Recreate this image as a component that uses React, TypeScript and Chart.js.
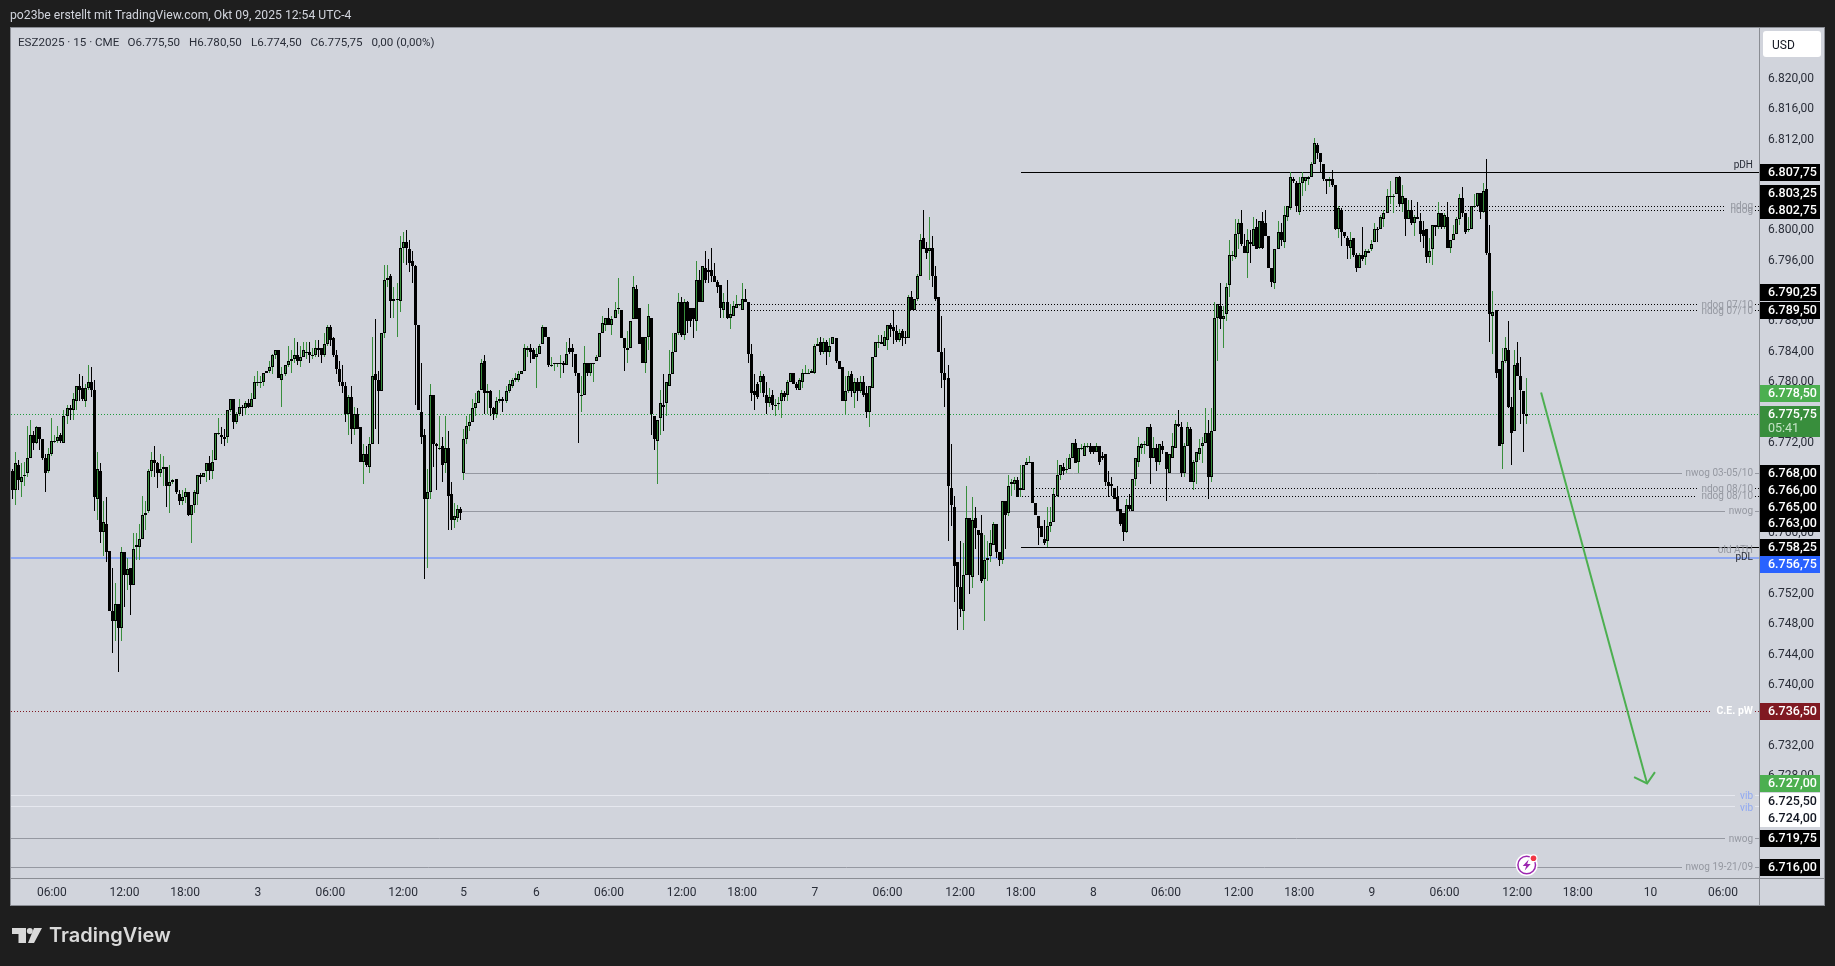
import React, { useEffect, useRef } from "react";
import { Chart, registerables } from "chart.js";

Chart.register(...registerables);

// [open, high, low, close] per 15 minute bar
const sessionOct2 = [
[6768.25,6768.5,6764.5,6765.75],[6765.75,6770.75,6763.75,6769.25],[6769,6769.75,6765.75,6767],[6766.75,6769.25,6764.75,6767.5],[6767.75,6769.5,6766.25,6767.75],
[6768,6774.25,6767.5,6770],[6770,6775,6770,6773],[6773,6773.5,6771,6772],[6772,6774.25,6771.75,6774],[6774,6774,6771,6772.5],
[6772.5,6772.5,6769.75,6770],[6770,6770.5,6765.5,6768],[6768.25,6771.25,6768,6770.5],[6770.5,6775.25,6770.25,6772.25],[6772.25,6773,6772,6772.25],
[6772.25,6774.25,6772,6772.75],[6773,6773.25,6772,6772.25],[6772,6776.25,6772,6775.5],[6775.5,6777,6774.5,6776.5],[6776.5,6777,6775,6776.25],
[6776.25,6778.5,6775,6777.75],[6777.5,6779.5,6776.25,6779.5],[6779.5,6781,6777.5,6779],[6779.25,6780.75,6777.5,6777.75],[6777.5,6779.75,6776.75,6779.25],
[6779.25,6782.25,6779,6780],[6780,6782,6778,6779],[6779,6780.25,6763,6764.75],[6764.5,6770.75,6761.75,6768.5],[6768.25,6769.25,6758.75,6760.25],
[6760.25,6764.25,6757,6761.5],[6761.25,6764.75,6756.25,6757.5],[6757.75,6757.75,6749.75,6749.75],[6749.75,6755.5,6744.25,6748.5],[6748.5,6753.5,6745.75,6750.75],
[6750.75,6750.75,6741.75,6747.5],[6747.5,6758.25,6745.75,6757.5],[6757.5,6757.5,6750.25,6754.5],[6754.5,6756.75,6752.5,6755.25],[6755.5,6755.5,6749.25,6753.25],
[6753.25,6760,6753.25,6758],[6758.25,6760,6756.5,6758.5],[6758.25,6761.25,6756.5,6759.25],[6759.25,6765,6759.25,6762.5],[6762.5,6764.25,6760.5,6762.75],
[6763,6768.5,6762.75,6768.25],[6768.25,6770.75,6767.5,6769.75],[6769.75,6771.5,6767.5,6769.25],[6769.25,6769.5,6766,6768],[6768,6770.5,6767.5,6768.5],
[6768.5,6770.25,6766.25,6768.75],[6768.75,6768.75,6763.5,6766.25],[6766.25,6769,6762.75,6766.75],[6766.75,6767.25,6766.5,6767],[6767.25,6767.25,6765.25,6765.5],
[6765.25,6765.75,6763.75,6764.25],[6764.25,6765.75,6763.75,6764.75],
];

const sessionOct3 = [
[6764.75,6766,6764,6765.5],[6765.5,6765.5,6762.25,6762.5],[6762.5,6763.75,6758.75,6763.75],[6763.75,6765.75,6762.75,6765.5],[6765.25,6767.75,6763.75,6767.75],
[6767.75,6768,6766.5,6767.5],[6767.5,6768,6767.5,6768],[6768.25,6769.25,6766.75,6769.25],[6769.25,6770.25,6767,6768.25],[6768.25,6771,6767.25,6769.5],
[6769.75,6773.25,6769.75,6773.25],[6773.25,6775.25,6773,6773.25],[6773,6774,6771.75,6772.75],[6772.75,6773.75,6771.5,6772.5],[6772.75,6776.25,6772,6776.25],
[6776.25,6777.75,6776,6777.75],[6777.75,6777.75,6773.75,6774.75],[6774.75,6776,6774.5,6775.75],[6775.75,6777.75,6775.5,6776.75],[6776.75,6777,6775.5,6776.5],
[6776.5,6777.5,6775.75,6777.25],[6777.25,6777.75,6776.5,6776.75],[6776.75,6778.5,6776.75,6777.75],[6777.75,6780.75,6777.75,6780],[6780,6781.5,6779.5,6780],
[6780,6780.75,6779.25,6780],[6780,6781.25,6779.5,6781.25],[6781.25,6781.5,6781.25,6781.5],[6781.5,6782.75,6781.25,6782],[6782,6783.75,6781,6783.5],
[6783.5,6784.25,6783,6784.25],[6784.25,6784.25,6780.5,6780.5],[6780.25,6782,6776.75,6781],[6781,6782.25,6780.75,6782.25],[6782.25,6784.75,6782,6782.75],
[6782.75,6784.25,6781.25,6783],[6783,6785.75,6782.5,6783.5],[6783.5,6785.25,6782.25,6782.75],[6782.75,6784.75,6782,6783.25],[6783.25,6785.25,6783.25,6784.25],
[6784,6785.25,6783,6784],[6784,6785.25,6782.5,6783.5],[6783.5,6784.5,6783,6783.5],[6783.5,6785.5,6783.25,6784.5],[6784.5,6785.5,6783.25,6784.25],
[6784.5,6784.5,6782.5,6783.5],[6783.5,6786.5,6783.25,6785],[6785,6787.5,6784.75,6787.25],[6787.25,6787.5,6784.75,6785.5],[6785.75,6786,6783.25,6783.5],
[6783.5,6784.25,6781,6781.75],[6781.75,6782.75,6779.5,6780],[6780,6782.25,6778.5,6779.5],[6779.5,6780,6774.75,6775.75],[6775.75,6778.25,6773,6778],
[6778,6779.5,6771.75,6773.75],[6773.75,6776.75,6773,6775.75],[6775.75,6776.5,6773.75,6773.75],[6774,6774,6769.5,6769.5],[6769.5,6771.75,6766.5,6770.5],
[6770.5,6771.5,6768.75,6769],[6768.75,6772.75,6768,6771.75],[6771.75,6786,6771.75,6780.75],[6781,6788.25,6773.75,6780.25],[6780.25,6781.5,6771.75,6778.75],
[6778.75,6786.5,6778.75,6786.5],[6786.5,6795.5,6785.75,6793.5],[6793.5,6795.5,6792.5,6793.75],[6794,6794.25,6788.5,6790.75],[6790.75,6792.5,6788.5,6791],
[6791,6793,6786,6791],[6790.75,6799.25,6789.25,6797.75],[6797.75,6799.75,6795.75,6798.5],[6798.5,6800,6795.5,6797.75],[6797.5,6798.75,6794.5,6795.75],
[6796,6797.25,6793,6795.25],[6795.25,6795.5,6777,6787.5],[6787.5,6787.5,6776.25,6776.25],[6776,6782.5,6771.75,6772.75],[6773,6773.75,6754,6764.5],
[6764.5,6768.5,6755.5,6765.5],[6765.5,6779.75,6764.5,6778.25],[6778.25,6778.25,6768.75,6771.75],[6771.75,6772,6765.75,6771.5],[6771.25,6775.5,6771,6771.25],
[6771.5,6772.75,6766.75,6769],[6769.25,6775.5,6768,6771.25],[6771.25,6773.5,6760.5,6765],[6765.25,6766.75,6760.5,6761.75],[6761.75,6764,6760.75,6762.25],
[6762,6763.75,6761.5,6763.25],[6763.25,6763.5,6761.75,6762.75],
];

const sessionOct6 = [
[6768,6773.75,6767,6772.5],[6772.5,6775.5,6771.75,6774.25],[6774.25,6775.75,6773.5,6774.75],[6774.75,6777.75,6774.75,6776.5],[6776.5,6778.5,6775.5,6777.25],
[6777.25,6779,6777.25,6778.75],[6779,6783,6779,6782.5],[6782.75,6783.5,6775.75,6778.5],[6778.5,6779.75,6775.75,6778.75],[6778.75,6779,6775.5,6776.5],
[6776.5,6776.75,6775,6775.75],[6775.75,6778,6775.25,6777.5],[6777.5,6779,6777.25,6777.75],[6777.75,6778,6776,6777.5],[6777.5,6779.5,6777.25,6778.75],
[6778.75,6780.25,6778.5,6779.75],[6779.5,6780.5,6779.25,6780.25],[6780.25,6781.25,6780,6780.5],[6780.25,6781.5,6780,6781],[6781,6781.5,6781,6781.5],
[6781.5,6785,6781.5,6784.5],[6784.25,6784.75,6783.25,6784.5],[6784.5,6785,6782.5,6784],[6784.25,6784.5,6783,6783],[6783.25,6784.5,6779.25,6783.75],
[6783.75,6785,6783.75,6784.75],[6785,6787.5,6785,6787.25],[6787.25,6787.25,6786,6786],[6786,6786,6782,6782.25],[6782.25,6783.25,6782,6782.25],
[6782.5,6782.5,6781.5,6782.5],[6782.5,6782.5,6782,6782.5],[6782.5,6783.5,6780.5,6782.5],[6782.5,6782.75,6781.25,6782.25],[6782.25,6785.25,6782.25,6783.75],
[6784.5,6785.75,6783.75,6784],[6784.5,6785,6782,6784],[6783.75,6783.75,6780.75,6781.25],[6781.25,6781.25,6772,6778.5],[6778.25,6780.75,6776,6778.25],
[6778.25,6784.75,6778.25,6782.5],[6782.5,6782.5,6780.75,6781.25],[6781.25,6782.5,6780.75,6782.5],[6782.5,6782.5,6780,6782.5],[6782.75,6783.5,6782.75,6783.25],
[6783.25,6786.5,6783.25,6786.5],[6786.5,6788.75,6786.5,6787.75],[6787.5,6788.5,6786.75,6788.5],[6788.5,6789.75,6787.5,6787.5],[6787.5,6788.75,6786.25,6788.25],
[6788.5,6790.5,6788.5,6789.5],[6789.75,6793.75,6789,6789.75],[6789.5,6789.5,6785.75,6785.75],[6785.75,6785.75,6781.5,6784.5],[6784.25,6786.75,6782.5,6784.5],
[6784.5,6788,6784.5,6788],[6788.25,6794,6788.25,6792.5],[6792.25,6792.75,6788.25,6788.25],[6789.75,6789.75,6785,6785],[6786,6786,6782.5,6782.5],
[6782.5,6786,6781.25,6786],[6786,6790.25,6784.25,6788.75],[6788.5,6788.5,6773,6775.75],[6775.5,6775.5,6771,6772.5],[6772.25,6775,6766.5,6775],
[6775.25,6779,6773,6777.25],[6777,6781,6773.5,6776.75],[6777.25,6780,6775.5,6780],[6779.5,6784.25,6779.5,6781],[6781,6786.5,6781,6784],
[6784,6786.5,6784,6786.5],[6786.5,6791.75,6786.25,6790.5],[6790.5,6791.25,6786,6786.25],[6786.25,6791,6785.5,6790.5],[6790.5,6790.75,6786.5,6788],
[6789.75,6789.75,6787.25,6788],[6789.75,6789.75,6785.75,6788.25],[6788,6796,6786.75,6793.5],[6793.5,6794.75,6790.5,6790.5],[6790.5,6795.25,6790.5,6795.25],
[6795,6797.25,6793,6793.5],[6794.75,6796.25,6793,6794.5],[6794.75,6797.75,6793.25,6794],[6794,6795.75,6793.25,6793.25],[6793.25,6793.5,6791.75,6792.5],
[6792.75,6792.75,6788.5,6789.75],[6789.5,6791.75,6788.5,6790.5],[6790.5,6793.5,6788.25,6788.5],[6788.5,6790.25,6787,6789],[6788.75,6790.75,6788.75,6790],
[6789.75,6791.5,6789.75,6790.25],[6790.25,6790.25,6790,6790.25],
];

const sessionOct7 = [
[6789.5,6793,6789.5,6791],[6791,6792.25,6790.5,6790.5],[6790.5,6790.5,6782.5,6783.75],[6783.75,6785,6777.5,6778.5],[6778.75,6781,6776.25,6778.25],
[6779.75,6780,6777.75,6778],[6780,6781.5,6778.5,6780.75],[6780.75,6781,6778,6778.5],[6778.25,6780,6775.75,6777.25],[6777.25,6779.25,6776.75,6778],
[6778.25,6779,6776.25,6777],[6777,6777.75,6775.5,6777],[6777.25,6778,6776.25,6777.25],[6777.5,6779,6775.25,6778.5],[6778.5,6778.75,6777.5,6778],
[6778.25,6780.25,6777.5,6780],[6780,6781.25,6780,6781.25],[6781.25,6781.25,6779.75,6779.75],[6779.75,6780,6779,6779.25],[6779,6780.5,6779,6780.25],
[6780,6781.75,6779.25,6781.25],[6781,6782.25,6781,6781.25],[6781.25,6781.75,6781.25,6781.25],[6781.25,6781.75,6781.25,6781.5],[6781.25,6785,6781,6784.75],
[6784.75,6785.75,6784.75,6785],[6785.25,6786,6783.5,6784],[6784,6785.75,6783.75,6785.25],[6785.25,6785.5,6782.25,6784],[6784,6785.75,6783.25,6784.75],
[6785,6786,6785,6786],[6785.75,6785.75,6782.5,6782.75],[6782.75,6782.75,6781.75,6781.75],[6782,6782,6777.5,6777.5],[6777.5,6780.75,6775.75,6778.75],
[6778.75,6781.5,6778.5,6780.75],[6781,6781.5,6778,6778.75],[6778.5,6780.5,6776.5,6780],[6780,6780.5,6777.5,6778.75],[6778.75,6780.75,6778.5,6780],
[6780,6780.75,6778,6778.25],[6778.5,6779.5,6775.25,6776],[6776,6779.5,6774,6779.5],[6779.25,6783.25,6779.25,6783.25],[6783.25,6785.25,6783.25,6785.25],
[6785.25,6786.25,6784.5,6785.25],[6785.25,6786.25,6785,6785],[6784.75,6786.75,6784.75,6786],[6785.5,6787.5,6784.25,6787.5],[6787.5,6787.75,6786,6787],
[6787.25,6789.5,6785,6786.75],[6786.75,6787.5,6785.25,6785.5],[6785.5,6787,6785.25,6786.5],[6786.75,6787,6784.75,6785.75],[6786,6786.75,6785,6785.75],
[6785.75,6791.5,6785.75,6791.25],[6791.25,6792,6789.5,6789.5],[6789.5,6791,6789.5,6791],[6791,6794.25,6790.75,6794],[6794,6799.5,6794,6798.75],
[6799,6802.75,6797.5,6797.5],[6797.75,6798.5,6796.25,6797],[6797.25,6801.75,6793.5,6797.75],[6797.75,6799.25,6792.5,6794],[6794,6795.25,6790.75,6791],
[6791.25,6791.25,6784,6784],[6784,6788.75,6779.25,6781.25],[6781.25,6784.5,6776.75,6780.25],[6780.5,6782.25,6759,6766.25],[6766,6771.75,6761,6763.75],
[6763.5,6765,6751,6755.75],[6756.25,6756.25,6747.25,6753],[6753,6759,6749,6750],[6749.75,6758.75,6747.25,6754.5],[6754.5,6766.25,6754.5,6762],
[6762,6762,6752,6754.5],[6754.25,6764.75,6752.75,6761.75],[6762,6763.5,6758,6760.75],[6760.5,6760.5,6754.5,6759.75],[6760,6762.5,6753.5,6753.75],
[6754,6759.75,6748.5,6756.5],[6756.5,6759,6753.75,6756.75],[6757,6760.5,6756.25,6758.75],[6758.5,6761.5,6758.5,6761.25],[6761.25,6761.25,6756.75,6757.5],
[6757.5,6757.5,6755.75,6756.5],[6756.5,6764.25,6756,6764.25],[6764.25,6764.25,6758,6762.5],[6762.75,6767.75,6762.25,6766.25],[6766.5,6767.25,6765,6766.75],
[6766.5,6767.5,6765.75,6767],[6767,6767.5,6764.75,6764.75],
];

const sessionOct8 = [
[6765.75,6769,6764.75,6766],[6765.75,6769,6765.75,6769],[6769,6770,6769,6769.5],[6769.5,6770.25,6769.25,6769.5],[6769.5,6769.5,6764,6764],
[6764,6764,6762.5,6762.5],[6762.25,6762.25,6758.5,6760.75],[6761,6761,6759.5,6759.5],[6759.25,6761.75,6758.5,6758.75],[6759,6763.5,6758.25,6761],
[6761,6763.5,6760.25,6761.5],[6761.5,6766,6761.5,6765.25],[6765,6769.75,6764.75,6767.75],[6767.75,6769,6767,6769],[6768.75,6769.25,6767.75,6768.25],
[6768.5,6770,6768,6768.5],[6768.5,6770.5,6768.5,6770],[6770,6772,6770,6772],[6772,6772.5,6769.25,6769.25],[6769.5,6771.25,6768,6771.25],
[6771.25,6771.75,6771,6771.25],[6770.25,6772,6770.25,6771.5],[6771.5,6772,6771.25,6771.5],[6771.5,6772,6770.5,6770.75],[6771.5,6771.5,6770.5,6770.75],
[6770.75,6772,6770.75,6771.5],[6771.5,6771.5,6769,6769.5],[6770.25,6770.75,6769.75,6770],[6770.5,6770.5,6766.25,6766.75],[6766.75,6768.25,6764.75,6766.25],
[6766.5,6767.5,6765,6766.25],[6766,6766,6764.5,6764.5],[6764.75,6766.25,6763,6763],[6763.25,6763.25,6761,6761.25],[6762.75,6762.75,6759,6760.25],
[6760.25,6764.5,6760,6763.75],[6763.75,6765.25,6763,6763.25],[6763,6767.25,6763,6767.25],[6767.25,6770,6766.25,6770],[6769.5,6772.75,6768.75,6771.5],
[6771.25,6772,6770.5,6771.75],[6771.75,6772.25,6770.5,6771.75],[6771.5,6774,6771.5,6774],[6774,6774.5,6766.5,6770],[6770,6772.75,6770,6771.25],
[6771.25,6771.75,6768.25,6769.5],[6769.5,6771.75,6769,6771.75],[6771.5,6772.25,6770.5,6771],[6770.75,6770.75,6764.25,6768.5],[6768,6770.5,6768,6770.5],
[6770,6773.25,6770,6771.5],[6771.25,6775,6771.25,6774.5],[6774.5,6776.25,6774,6774.25],[6774,6774.75,6767.5,6768],[6768,6772,6767.5,6771.5],
[6771.5,6774.75,6771.5,6774],[6773.75,6774,6766.75,6766.75],[6766.75,6769.75,6765.75,6769.5],[6769.5,6770.75,6766.5,6770.75],[6770.5,6772.5,6769.75,6771.25],
[6771.5,6772.75,6769.25,6772],[6772,6776.5,6772,6773.25],[6773.25,6775,6764.5,6767.5],[6767.5,6776.5,6766.75,6773.5],[6773.5,6790.5,6773.5,6788.5],
[6788.5,6790.25,6782.75,6790.25],[6790,6793,6787,6788.25],[6788.25,6790,6784.5,6788.75],[6789,6793,6788,6792.5],[6792.75,6798.75,6791.25,6796.75],
[6796.75,6797.25,6796,6796.75],[6796.5,6801.5,6796.25,6799.5],[6799.5,6801.5,6797.5,6801],[6801,6802.75,6798,6798.25],[6798,6799.5,6797,6797],
[6797,6800.25,6793.75,6798.75],[6798.5,6800,6795.75,6798.25],[6798,6801.75,6798,6800.25],[6800.5,6801.5,6797.5,6797.5],[6797.75,6801.25,6797.5,6801.25],
[6801.25,6802.5,6797.5,6797.75],[6801,6802.75,6799.25,6799.25],[6799.25,6799.25,6795,6795],[6795,6795,6792.5,6793.25],[6793,6797.5,6792.25,6797.5],
[6797.5,6801.25,6797.5,6799.75],[6799.75,6801,6798,6798.75],[6798.5,6803.25,6797.75,6802],[6801.75,6803.25,6801.25,6803.25],[6803,6807.75,6802.75,6807],
[6806.75,6807,6806.25,6806.5],[6806.25,6806.5,6802.5,6803.25],
];

const sessionOct9 = [
[6802.5,6807,6802,6806.25],[6806.25,6807.75,6804.5,6807],[6806.5,6807,6805.25,6807],[6806.75,6807.25,6806,6807],[6807,6809,6807,6808.75],
[6808.75,6812.25,6808.75,6811.5],[6811.25,6811.5,6809.5,6810.25],[6810.25,6810.25,6807.75,6809],[6808.75,6808.75,6806.5,6806.75],[6806.75,6806.75,6804.75,6806.5],
[6806.5,6807,6805.75,6806.75],[6806.75,6808,6805.75,6806],[6806,6806,6800,6800.25],[6800.25,6803.25,6799,6803],[6802.75,6803,6798,6799.75],
[6799.75,6799.75,6799,6799.25],[6799,6799.25,6796.25,6798],[6797.75,6799.75,6796.25,6798.75],[6799,6799,6796.5,6796.75],[6796.75,6797,6794.5,6795],
[6795,6797,6795,6796.75],[6796.75,6800.5,6796,6796.25],[6796.5,6797.5,6795.5,6797.25],[6797,6797.5,6797,6797.25],[6797.5,6798.75,6797.25,6798.25],
[6798.5,6801,6798.5,6800.25],[6800.25,6800.5,6798.5,6800],[6800.25,6802,6800.25,6801.75],[6801.5,6802.75,6800.5,6802.25],[6802.25,6805.5,6802.25,6804.5],
[6804.5,6806.5,6803.5,6804.5],[6804.5,6804.75,6802.25,6804.5],[6804.75,6807,6804.75,6807],[6807,6807.25,6803.25,6803.5],[6803.5,6806,6802.5,6804.5],
[6804.25,6804.25,6799.25,6801.5],[6801.5,6804,6801.5,6802.75],[6802.75,6804,6800.75,6801],[6801,6802,6799.25,6801.75],[6801.75,6803.75,6801.5,6801.5],
[6801.25,6802.25,6798.5,6799.5],[6800,6801.25,6797.75,6799.25],[6800.25,6800.25,6795.75,6796.5],[6796.5,6799,6795.75,6797.25],[6797.5,6800.75,6795.5,6800.75],
[6800.75,6800.75,6799.25,6800.5],[6800.5,6803.75,6800.25,6802.25],[6802.25,6802.25,6800.25,6800.5],[6800.5,6802.25,6800.25,6802],[6801.75,6803.75,6797.75,6797.75],
[6797.75,6798.75,6797,6798.75],[6798.75,6800.75,6798.75,6799.5],[6799.5,6801.75,6799.5,6801.5],[6801.5,6804.75,6800.75,6804.25],[6804.25,6805.75,6801.75,6802.25],
[6802.25,6802.25,6799.5,6799.75],[6800,6801.75,6799.75,6800.25],[6800.25,6803.25,6800.25,6803.25],[6803.25,6804.75,6803,6803.25],[6803.25,6804.75,6803.25,6805],
[6805,6805,6801.5,6802.5],[6802.5,6806.25,6802.25,6805.25],[6805.5,6809.5,6796.75,6797],[6797,6800.75,6785.25,6789],[6788.75,6792,6783.75,6789.25],
[6789.5,6789.5,6780.5,6781.25],[6781.75,6781.75,6771.5,6771.5],[6771.75,6784.5,6768.5,6782.75],[6782.75,6786,6782.5,6784.5],[6784.25,6788,6776.5,6776.75],
[6776.75,6778,6769,6773.25],[6773.5,6784.25,6773.5,6782.25],[6782.5,6785.25,6780.75,6780.75],[6780.75,6783.25,6774.5,6779],[6778.75,6778.75,6770.75,6775.75],
[6775.5,6780.5,6774.5,6775.75],
];

const allBars = [...sessionOct2, ...sessionOct3, ...sessionOct6, ...sessionOct7, ...sessionOct8, ...sessionOct9];

const timeTicks = [14, 38, 58, 82, 106, 130, 150, 174, 198, 222, 242, 266, 290, 314, 334, 358, 382, 406, 426, 450, 474, 498, 518, 542, 566];
const timeLabels = ["06:00", "12:00", "18:00", "3", "06:00", "12:00", "5", "6", "06:00", "12:00", "18:00", "7", "06:00", "12:00", "18:00", "8", "06:00", "12:00", "18:00", "9", "06:00", "12:00", "18:00", "10", "06:00"];
const priceTicks = [6716, 6720, 6724, 6728, 6732, 6736, 6740, 6744, 6748, 6752, 6756, 6760, 6764, 6768, 6772, 6776, 6780, 6784, 6788, 6792, 6796, 6800, 6804, 6808, 6812, 6816, 6820, 6824];

// horizontal levels: price, first bar, bar where the label gap starts, colour, dash, width
const levelPrices = [6807.75, 6803.25, 6802.75, 6790.25, 6789.5, 6775.75, 6768, 6766, 6765, 6763, 6758.25, 6756.75, 6736.5, 6725.5, 6724, 6719.75, 6716];
const levelFirstBars = [334, 426.3, 426.3, 244, 244, 0.5, 150.5, 338, 334.5, 149, 334, 0.5, 0.5, 0.5, 0.5, 0.5, 0.5];
const levelLastBars = [577.9, 567, 567, 557.4, 557.4, 577.5, 552.4, 557.4, 557.4, 566.6, 577.9, 577.9, 562, 570, 570, 566.6, 552.4];
const levelColors = ["#000000", "#000000", "#000000", "#000000", "#000000", "#1f9a3c", "#9598a1", "#000000", "#000000", "#9598a1", "#000000", "#8fa8f2", "#801922", "#e6e8ef", "#e6e8ef", "#9598a1", "#9598a1"];
const levelDotted = [false, true, true, true, true, true, false, true, true, false, false, false, true, false, false, false, false];
const levelWidths = [1, 1, 1, 1, 1, 1, 1, 1, 1, 1, 1, 2, 1, 1, 1, 1, 1];

const levelTexts = ["pDH", "ndog", "ndog", "ndog 07/10", "ndog 07/10", "nwog 03-05/10", "ndog 08/10", "ndog 08/10", "nwog", "old ATH", "pDL", "C.E. pW", "vib", "vib", "nwog", "nwog 19-21/09"];
const levelTextPrices = [6808.75, 6803.25, 6802.75, 6790.25, 6789.5, 6768, 6766, 6765, 6763, 6757.9, 6757, 6736.6, 6725.4, 6723.8, 6719.75, 6716];
const levelTextColors = ["#2a2e39", "#9598a1", "#9598a1", "#9598a1", "#9598a1", "#9598a1", "#9598a1", "#9598a1", "#9598a1", "#9598a1", "#2a2e39", "#ffffff", "#8fa8f2", "#8fa8f2", "#9598a1", "#9598a1"];

const tagPrices = [6807.75, 6803.25, 6802.75, 6790.25, 6789.5, 6778.5, 6768, 6766, 6765, 6763, 6758.25, 6756.75, 6736.5, 6727, 6725.5, 6724, 6719.75, 6716];
const tagNudges = [0, -13, 0, -12, 0, 0, 0, 2, 11, 12.5, 0, 6, 0, 0, 6, 11.5, 0, 0];
const tagColors = ["#000000", "#000000", "#000000", "#000000", "#000000", "#4caf50", "#000000", "#000000", "#000000", "#000000", "#000000", "#2962ff", "#801922", "#4caf50", "#ffffff", "#ffffff", "#000000", "#000000"];
const tagTextColors = ["#fff", "#fff", "#fff", "#fff", "#fff", "#fff", "#fff", "#fff", "#fff", "#fff", "#fff", "#fff", "#fff", "#fff", "#131722", "#131722", "#fff", "#fff"];

const lastPrice = 6775.75;
const countdown = "05:41";
const arrowShaft = [{ x: 505.9, y: 6778.6 }, { x: 540.9, y: 6727 }];
const arrowHead = [{ x: 536.6, y: 6727.85 }, { x: 540.9, y: 6727 }, { x: 543.5, y: 6728.5 }];

const headerText = "po23be erstellt mit TradingView.com, Okt 09, 2025 12:54 UTC-4";
const legendParts = ["ESZ2025 · 15 · CME", "O6.775,50", "H6.780,50", "L6.774,50", "C6.775,75", "0,00 (0,00%)"];
const legendOffsets = [18, 127.5, 189, 251, 310.5, 371.5];

const BAR_GREEN = "#388e3c";
const FONT = "Roboto, sans-serif";
const fmt = (p: number) =>
  p.toLocaleString("de-DE", { minimumFractionDigits: 2, maximumFractionDigits: 2 });

const frame = {
  id: "frame",
  beforeDraw(chart: any) {
    const { ctx, chartArea: a } = chart;
    ctx.save();
    ctx.fillStyle = "#1e1e1e";
    ctx.fillRect(0, 0, 1835, 966);
    ctx.fillStyle = "#8a8d94";
    ctx.fillRect(10, 27, 1815, 879);
    ctx.fillStyle = "#d1d4dc";
    ctx.fillRect(a.left, 28, 1824 - a.left, 905 - 28);
    ctx.fillStyle = "#8a8d94";
    ctx.fillRect(a.right, 28, 1, 905 - 28);
    ctx.fillRect(a.left, a.bottom, 1824 - a.left, 1);
    ctx.textBaseline = "middle";
    ctx.textAlign = "left";
    ctx.fillStyle = "#d1d4dc";
    ctx.font = `12.2px ${FONT}`;
    ctx.fillText(headerText, 10, 16);
    ctx.restore();
  },
  afterDatasetsUpdate(chart: any) {
    chart.data.datasets.forEach((ds: any, k: number) => {
      const meta = chart.getDatasetMeta(k);
      if (ds.type === "bar") {
        meta.data.forEach((el: any) => {
          el.x = Math.floor(el.x) + 0.5;
          let t = Math.round(Math.min(el.y, el.base));
          let b = Math.round(Math.max(el.y, el.base));
          if (b - t < 1) b = t + 1;
          el.y = t;
          el.base = b;
        });
      } else if (ds.crisp) {
        meta.data.forEach((el: any) => {
          el.x = Math.round(el.x);
          el.y = ds.borderWidth === 2 ? Math.round(el.y) : Math.round(el.y) + 0.5;
        });
      }
    });
  },
  afterDraw(chart: any) {
    const { ctx } = chart;
    const yS = chart.scales.y;
    ctx.save();
    ctx.textBaseline = "middle";

    // legend
    ctx.textAlign = "left";
    ctx.fillStyle = "#2a2e39";
    ctx.font = `11.6px ${FONT}`;
    legendParts.forEach((t, i) => ctx.fillText(t, legendOffsets[i], 43));

    // level labels
    ctx.textAlign = "right";
    levelTexts.forEach((t, i) => {
      ctx.fillStyle = levelTextColors[i];
      ctx.font = t === "C.E. pW" ? `bold 10.5px ${FONT}` : `10px ${FONT}`;
      ctx.fillText(t, 1753, yS.getPixelForValue(levelTextPrices[i]) + 1);
    });

    // price tags
    ctx.textAlign = "left";
    ctx.font = `500 12.5px ${FONT}`;
    tagPrices.forEach((p, i) => {
      const y = Math.round(yS.getPixelForValue(p) + tagNudges[i]);
      ctx.fillStyle = tagColors[i];
      ctx.fillRect(1760, y - 8, 60, 17);
      ctx.fillStyle = tagTextColors[i];
      ctx.fillText(fmt(p), 1768, y + 0.5);
    });
    const ly = Math.round(yS.getPixelForValue(lastPrice));
    ctx.fillStyle = "#388e3c";
    ctx.fillRect(1760, ly - 8, 60, 31);
    ctx.fillStyle = "#fff";
    ctx.fillText(fmt(lastPrice), 1768, ly + 0.5);
    ctx.fillStyle = "#c4e3c6";
    ctx.font = `12.5px ${FONT}`;
    ctx.fillText(countdown, 1768, ly + 14.5);

    // currency button
    ctx.fillStyle = "#ffffff";
    ctx.beginPath();
    ctx.roundRect(1763, 31, 58, 26, 3);
    ctx.fill();
    ctx.fillStyle = "#131722";
    ctx.font = `12px ${FONT}`;
    ctx.fillText("USD", 1772, 45.5);

    // lightning badge
    const cx = 1526.7, cy = 865;
    ctx.fillStyle = "#ffffff";
    ctx.beginPath();
    ctx.arc(cx, cy, 11, 0, Math.PI * 2);
    ctx.fill();
    ctx.strokeStyle = "#9c27b0";
    ctx.lineWidth = 1.5;
    ctx.beginPath();
    ctx.arc(cx, cy, 8.8, 0, Math.PI * 2);
    ctx.stroke();
    ctx.fillStyle = "#9c27b0";
    ctx.beginPath();
    ctx.moveTo(cx + 2, cy - 5.5);
    ctx.lineTo(cx - 4, cy + 1);
    ctx.lineTo(cx - 0.5, cy + 1);
    ctx.lineTo(cx - 2, cy + 5.5);
    ctx.lineTo(cx + 4, cy - 1);
    ctx.lineTo(cx + 0.5, cy - 1);
    ctx.closePath();
    ctx.fill();
    ctx.fillStyle = "#ffffff";
    ctx.beginPath();
    ctx.arc(cx + 6.8, cy - 6.8, 4, 0, Math.PI * 2);
    ctx.fill();
    ctx.fillStyle = "#f23645";
    ctx.beginPath();
    ctx.arc(cx + 6.8, cy - 6.8, 2.8, 0, Math.PI * 2);
    ctx.fill();

    // TradingView brand
    ctx.fillStyle = "#d9d9d9";
    ctx.beginPath();
    ctx.moveTo(12, 928); ctx.lineTo(26, 928); ctx.lineTo(26, 943); ctx.lineTo(18.5, 943);
    ctx.lineTo(18.5, 934); ctx.lineTo(12, 934); ctx.closePath();
    ctx.fill();
    ctx.beginPath();
    ctx.arc(29.8, 931, 3, 0, Math.PI * 2);
    ctx.fill();
    ctx.beginPath();
    ctx.moveTo(34, 928); ctx.lineTo(42, 928); ctx.lineTo(34, 943); ctx.lineTo(28, 943);
    ctx.closePath();
    ctx.fill();
    ctx.textAlign = "left";
    ctx.font = `600 20px Inter, ${FONT}`;
    ctx.fillText("TradingView", 49, 936);
    ctx.restore();
  },
};

const lineBase = { type: "line", pointRadius: 0, tension: 0, fill: false };

export default function App() {
  const ref = useRef<HTMLCanvasElement>(null);
  useEffect(() => {
    const bars = allBars.map((b, i) => ({ i: i + 1, o: b[0], h: b[1], l: b[2], c: b[3] }));
    const levelSets: any[] = [];
    levelPrices.forEach((p, i) => {
      const common = {
        ...lineBase,
        order: 5,
        crisp: true,
        borderColor: levelColors[i],
        borderWidth: levelWidths[i],
        borderDash: levelDotted[i] ? [1, 2] : [],
      };
      levelSets.push({
        ...common,
        label: `level ${p}`,
        data: [{ x: levelFirstBars[i], y: p }, { x: levelLastBars[i], y: p }],
      });
      if (levelLastBars[i] < 577) {
        levelSets.push({
          ...common,
          label: `level ${p} tail`,
          data: [{ x: 576.6, y: p }, { x: 577.9, y: p }],
        });
      }
    });
    const chart = new Chart(ref.current!, {
      type: "bar",
      plugins: [frame],
      data: {
        datasets: [
          {
            type: "line",
            label: "arrow",
            data: arrowShaft,
            borderColor: "#4caf50",
            borderWidth: 2,
            pointRadius: 0,
            order: 0,
          },
          {
            type: "line",
            label: "arrow head",
            data: arrowHead,
            borderColor: "#4caf50",
            borderWidth: 2,
            pointRadius: 0,
            order: 0,
          },
          {
            type: "bar",
            label: "bodies",
            data: bars.map((b) => ({ x: b.i, y: [b.o, b.c] })),
            backgroundColor: bars.map((b) => (b.c >= b.o ? BAR_GREEN : "#000000")),
            borderColor: "#000000",
            borderWidth: 1,
            borderSkipped: false,
            inflateAmount: 0,
            barThickness: 3,
            grouped: false,
            order: 1,
          },
          {
            type: "bar",
            label: "wicks",
            data: bars.map((b) => ({ x: b.i, y: [b.l, b.h] })),
            backgroundColor: bars.map((b) => (b.c >= b.o ? BAR_GREEN : "#000000")),
            borderWidth: 0,
            inflateAmount: 0,
            barThickness: 1,
            grouped: false,
            order: 2,
          },
          ...levelSets,
        ],
      } as any,
      options: {
        animation: false,
        responsive: false,
        devicePixelRatio: 1,
        events: [],
        layout: { padding: { left: 11, top: 27, right: 11, bottom: 61 } },
        plugins: { legend: { display: false }, tooltip: { enabled: false }, title: { display: false } },
        scales: {
          x: {
            type: "linear",
            offset: false,
            min: 0.495,
            max: 577.87,
            grid: { display: false },
            border: { display: false },
            afterBuildTicks: (s: any) => {
              s.ticks = timeTicks.map((v) => ({ value: v }));
            },
            afterFit: (s: any) => {
              s.height = 27;
            },
            ticks: {
              autoSkip: false,
              maxRotation: 0,
              padding: 0,
              color: "#2a2e39",
              font: { family: FONT, size: 12 },
              callback: (v: any) => timeLabels[timeTicks.indexOf(Number(v))] ?? "",
            },
          },
          y: {
            type: "linear",
            position: "right",
            min: 6714.52,
            max: 6826.86,
            grid: { display: false },
            border: { display: false },
            afterBuildTicks: (s: any) => {
              s.ticks = priceTicks.map((v) => ({ value: v }));
            },
            afterFit: (s: any) => {
              s.width = 65;
            },
            ticks: {
              autoSkip: false,
              padding: 1,
              color: "#2a2e39",
              font: { family: FONT, size: 12 },
              callback: (v: any) => fmt(Number(v)),
            },
          },
        },
      } as any,
    });
    return () => chart.destroy();
  }, []);
  return (
    <canvas
      ref={ref}
      width={1835}
      height={966}
      style={{ position: "fixed", left: 0, top: 0, width: 1835, height: 966, display: "block" }}
    />
  );
}
